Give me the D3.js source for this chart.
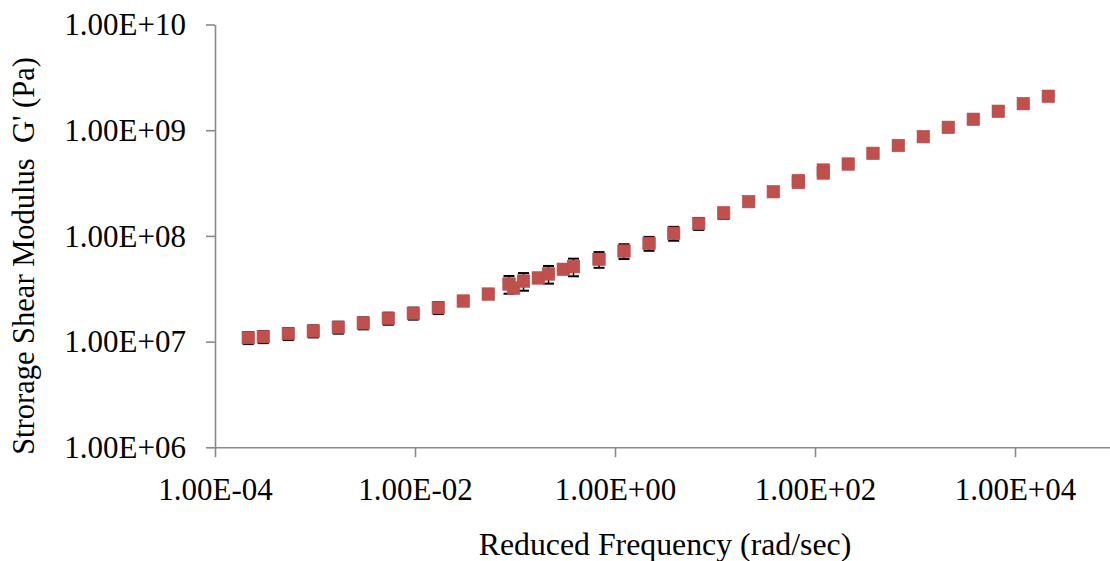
<!DOCTYPE html>
<html>
<head>
<meta charset="utf-8">
<script src="https://cdn.jsdelivr.net/npm/d3@7"></script>
<style>
  html, body { margin: 0; padding: 0; background: #fff; }
  svg { display: block; }
  text { font-family: "Liberation Serif", "Times New Roman", serif; fill: #000; white-space: pre; }
</style>
</head>
<body>
<svg id="chart" width="1110" height="561"></svg>
<script>
// Reduced frequency (rad/sec)
const frequency = [
  2.15e-4, 3.04e-4, 5.41e-4, 9.62e-4, 1.71e-3, 3.04e-3, 5.41e-3, 9.62e-3,
  1.71e-2, 3.04e-2, 5.41e-2, 8.71e-2, 9.66e-2, 0.1216, 0.171, 0.2163,
  0.304, 0.3846, 0.692, 1.23, 2.19, 3.86, 6.87, 12.2, 21.7, 38.3,
  68.1, 68.1, 121, 121, 215, 380, 681, 1211, 2153, 3828, 6808, 12106, 21528
];
// Storage shear modulus G' (Pa)
const storageModulus = [
  1.089e7, 1.112e7, 1.189e7, 1.259e7, 1.365e7, 1.500e7, 1.660e7, 1.854e7,
  2.094e7, 2.421e7, 2.818e7, 3.508e7, 3.21e7, 3.74e7, 4.00e7, 4.365e7,
  4.83e7, 5.12e7, 6.01e7, 7.19e7, 8.51e7, 1.059e8, 1.309e8, 1.648e8, 2.109e8, 2.618e8,
  3.342e8, 3.199e8, 4.198e8, 3.936e8, 4.786e8, 6.04e8, 7.16e8, 8.69e8, 1.064e9, 1.268e9,
  1.51e9, 1.782e9, 2.094e9
];
// Error (+/-, Pa)
const errorPa = [
  1.42e6, 1.45e6, 1.55e6, 1.64e6, 1.77e6, 1.95e6, 2.16e6, 2.41e6,
  2.72e6, 2.42e6, 2.82e6, 6.7e6, 2.6e6, 7.1e6, 3.2e6, 8.3e6,
  3.9e6, 9.7e6, 1.02e7, 1.15e7, 1.28e7, 1.59e7, 1.7e7, 1.98e7, 1.69e7, 2.09e7,
  2.67e7, 2.56e7, 3.36e7, 3.15e7, 3.83e7, 4.83e7, 5.73e7, 6.95e7, 8.5e7, 1.01e8,
  1.21e8, 1.43e8, 1.68e8
];
const xTickValues = [1e-4, 1e-2, 1e0, 1e2, 1e4];
const xTickLabels = ["1.00E-04", "1.00E-02", "1.00E+00", "1.00E+02", "1.00E+04"];
const yTickValues = [1e6, 1e7, 1e8, 1e9, 1e10];
const yTickLabels = ["1.00E+06", "1.00E+07", "1.00E+08", "1.00E+09", "1.00E+10"];
const xTitle = "Reduced Frequency (rad/sec)";
const yTitle = "Strorage Shear Modulus  G' (Pa)";

const svg = d3.select("#chart");
const plotLeft = 215, plotRight = 1110, plotTop = 24.5, plotBottom = 447.3;
const x = d3.scaleLog().domain([1e-4, Math.pow(10, 4.95)]).range([plotLeft, plotRight]);
const y = d3.scaleLog().domain([1e6, 1e10]).range([plotBottom, plotTop]);
const axisColor = "#898989";
const fontSize = 31;

// X axis
const xAxis = svg.append("g").attr("transform", `translate(0,${plotBottom})`)
  .call(d3.axisBottom(x).tickValues(xTickValues).tickSize(10).tickSizeOuter(0)
    .tickFormat((d, i) => xTickLabels[i]));
xAxis.select(".domain").attr("stroke", axisColor).attr("stroke-width", 1.6);
xAxis.selectAll(".tick line").attr("stroke", axisColor).attr("stroke-width", 1.6);
xAxis.selectAll(".tick text").attr("font-size", fontSize).attr("fill", "#000")
  .attr("font-family", "Liberation Serif, Times New Roman, serif")
  .attr("y", 31).attr("dy", "0.71em");

// Y axis
const yAxis = svg.append("g").attr("transform", `translate(${plotLeft},0)`)
  .call(d3.axisLeft(y).tickValues(yTickValues).tickSize(9).tickSizeOuter(0)
    .tickFormat((d, i) => yTickLabels[i]));
yAxis.select(".domain").attr("stroke", axisColor).attr("stroke-width", 1.6);
yAxis.selectAll(".tick line").attr("stroke", axisColor).attr("stroke-width", 1.6);
yAxis.selectAll(".tick text").attr("font-size", fontSize).attr("fill", "#000")
  .attr("font-family", "Liberation Serif, Times New Roman, serif")
  .attr("x", -29).attr("dy", "0.33em");

const data = frequency.map((f, i) => ({ f, g: storageModulus[i], e: errorPa[i] }));

// Error bars (behind markers)
const eb = svg.append("g");
data.forEach(d => {
  const yt = y(d.g + d.e), yb = y(Math.max(d.g - d.e, 1)), cx = x(d.f);
  eb.append("line").attr("x1", cx).attr("x2", cx).attr("y1", yt).attr("y2", yb)
    .attr("stroke", "#000").attr("stroke-width", 1.5);
  [yt, yb].forEach(yy => eb.append("line").attr("x1", cx - 5.5).attr("x2", cx + 5.5)
    .attr("y1", yy).attr("y2", yy).attr("stroke", "#000").attr("stroke-width", 2));
});

// Markers
const ms = 12.5;
svg.append("g").selectAll("rect").data(data).join("rect")
  .attr("x", d => x(d.f) - ms / 2).attr("y", d => y(d.g) - ms / 2)
  .attr("width", ms).attr("height", ms)
  .attr("fill", "#C0504D").attr("stroke", "#B84A47").attr("stroke-width", 0.6);

// Titles
svg.append("text").attr("x", 665).attr("y", 555)
  .attr("text-anchor", "middle").attr("font-size", 31.8).text(xTitle);
svg.append("text").attr("transform", `translate(34,256) rotate(-90)`)
  .attr("xml:space", "preserve")
  .attr("text-anchor", "middle").attr("font-size", 30.5).text(yTitle);
</script>
</body>
</html>
